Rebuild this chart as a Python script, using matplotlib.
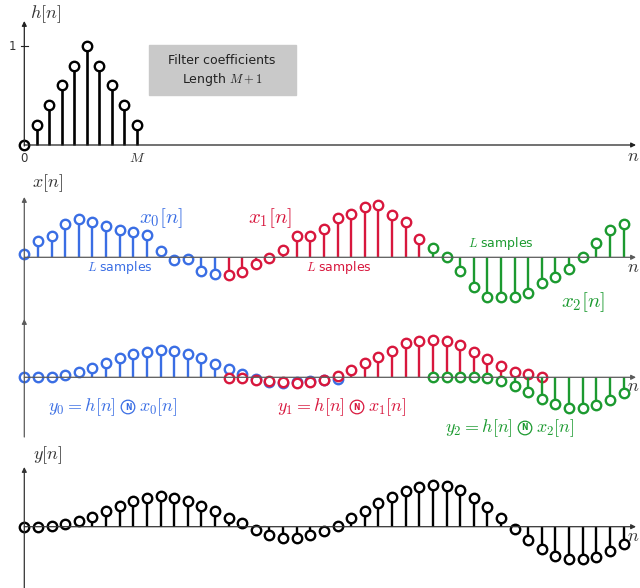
import matplotlib
matplotlib.use("Agg")
import matplotlib.pyplot as plt
from matplotlib.patches import Rectangle

plt.rcParams["mathtext.fontset"] = "cm"
plt.rcParams["font.family"] = ["DejaVu Sans"]

# ---------------- data ----------------
h_vals = [0.0, 0.2, 0.4, 0.6, 0.8, 1.0, 0.8, 0.6, 0.4, 0.2]
L = 15

x0_vals = [0.10, 0.50, 0.65, 0.99, 1.14, 1.07, 0.95, 0.82, 0.77, 0.67,
           0.19, -0.08, -0.06, -0.40, -0.50]
x1_vals = [-0.53, -0.43, -0.20, -0.03, 0.22, 0.65, 0.65, 0.84, 1.19, 1.29,
           1.50, 1.57, 1.27, 1.05, 0.54]
x2_vals = [0.27, 0.00, -0.40, -0.88, -1.18, -1.20, -1.18, -1.06, -0.78, -0.58,
           -0.36, 0.00, 0.42, 0.82, 0.99]

y0_vals = [0.00, 0.00, 0.00, 0.07, 0.15, 0.27, 0.42, 0.57, 0.70, 0.77,
           0.82, 0.79, 0.70, 0.57, 0.40, 0.24, 0.10, -0.05, -0.13, -0.16,
           -0.15, -0.12, -0.08, -0.04]
y1_vals = [-0.01, -0.03, -0.08, -0.11, -0.15, -0.18, -0.15, -0.08, 0.04, 0.22,
           0.44, 0.62, 0.80, 1.02, 1.08, 1.12, 1.09, 0.97, 0.77, 0.55,
           0.35, 0.17, 0.09, 0.00]
y2_vals = [0.00, 0.00, 0.00, 0.00, -0.03, -0.11, -0.25, -0.43, -0.65, -0.81,
           -0.91, -0.91, -0.83, -0.68, -0.46]

y_vals = [0.00, 0.00, 0.02, 0.07, 0.17, 0.30, 0.47, 0.63, 0.78, 0.87,
          0.92, 0.87, 0.78, 0.63, 0.47, 0.25, 0.10, -0.10, -0.25, -0.35,
          -0.33, -0.25, -0.13, 0.03, 0.25, 0.48, 0.70, 0.88, 1.07, 1.18,
          1.25, 1.22, 1.10, 0.87, 0.58, 0.25, -0.08, -0.40, -0.67, -0.87,
          -0.97, -0.98, -0.90, -0.73, -0.52]

BLUE = "#3a6ee4"
RED = "#d8173d"
GREEN = "#1c9a30"
AXIS = "#5a5a5a"

W, H = 640, 588
X0 = 24.3  # pixel column of n = 0

fig = plt.figure(figsize=(W / 100, H / 100), dpi=100)


def fpos(x, y):
    """pixel position -> figure fraction"""
    return (x / W, 1 - y / H)


def panel(top, bottom, x_step, base, y_step):
    ax = fig.add_axes([0, 1 - bottom / H, 1, (bottom - top) / H])
    ax.set_xlim(-X0 / x_step, (W - X0) / x_step)
    ax.set_ylim((base - bottom) / y_step, (base - top) / y_step)
    ax.axis("off")
    return ax


def arrow(x1, y1, x2, y2, color=AXIS, lw=0.9):
    fig.add_artist(matplotlib.patches.FancyArrowPatch(
        fpos(x1, y1), fpos(x2, y2), transform=fig.transFigure,
        arrowstyle="-|>", mutation_scale=7, lw=lw, color=color,
        shrinkA=0, shrinkB=0, zorder=1))


def stems(ax, n, vals, color, lw=1.7):
    ml, sl, bl = ax.stem(n, vals, basefmt=" ")
    sl.set_color(color)
    sl.set_linewidth(lw)
    ml.set_color(color)
    ml.set_markerfacecolor("white")
    ml.set_markeredgecolor(color)
    ml.set_markersize(6.8)
    ml.set_markeredgewidth(1.7)
    ml.set_clip_on(False)
    bl.set_visible(False)


def label(x, y, s, color="#333333", size=12, **kw):
    fig.text(*fpos(x, y), s, color=color, fontsize=size,
             ha=kw.pop("ha", "center"), va=kw.pop("va", "center"), **kw)


# ---------------- h[n] ----------------
ax1 = panel(0, 170, 12.5, 145, 99.3)
arrow(24.3, 145, 636, 145, color="#222222")
arrow(24.3, 146, 24.3, 21, color="#222222")
fig.add_artist(plt.Line2D([21 / W, 27.5 / W], [1 - 45.7 / H] * 2,
                          transform=fig.transFigure, color="#222222", lw=0.8))
stems(ax1, list(range(len(h_vals))), h_vals, "black", lw=1.9)
label(46, 14, r"$h[n]$", size=13)
label(12, 46, "1", size=8.5)
label(24.3, 158, "0", size=8.5)
label(136.8, 158, r"$M$", size=10)
label(633, 156, r"$n$", size=13)
fig.add_artist(Rectangle(fpos(149, 95), 147 / W, 50 / H,
                         transform=fig.transFigure, color="#c9c9c9", zorder=0))
label(222, 61, "Filter coefficients", color="#222222", size=9)
label(222, 79, r"Length $M+1$", color="#222222", size=9)

# ---------------- x[n] segments ----------------
ax2 = panel(170, 320, 13.62, 257.3, 33.3)
arrow(24.3, 257.3, 636, 257.3)
arrow(24.3, 320, 24.3, 197)
stems(ax2, list(range(0, L)), x0_vals, BLUE)
stems(ax2, list(range(L, 2 * L)), x1_vals, RED)
stems(ax2, list(range(2 * L, 3 * L)), x2_vals, GREEN)
label(48, 183, r"$x[n]$", size=13)
label(161, 218, r"$x_0[n]$", color=BLUE, size=15)
label(270, 218, r"$x_1[n]$", color=RED, size=15)
label(583, 302, r"$x_2[n]$", color=GREEN, size=15)
label(120, 267, r"$L$ samples", color=BLUE, size=9)
label(339, 267, r"$L$ samples", color=RED, size=9)
label(501, 244, r"$L$ samples", color=GREEN, size=9)
label(633, 267, r"$n$", size=13)

# ---------------- filtered segments ----------------
ax3 = panel(320, 440, 13.62, 377.3, 33.3)
arrow(24.3, 377.3, 636, 377.3)
arrow(24.3, 437, 24.3, 319)
stems(ax3, list(range(0, len(y0_vals))), y0_vals, BLUE)
stems(ax3, list(range(L, L + len(y1_vals))), y1_vals, RED)
stems(ax3, list(range(2 * L, 2 * L + len(y2_vals))), y2_vals, GREEN)
label(633, 386, r"$n$", size=13)


def conv_label(cx, cy, k, color):
    label(cx - 12, cy, r"$y_%d = h[n]$" % k, color=color, size=13, ha="right")
    fig.text(*fpos(cx, cy), "N", color=color, fontsize=5.5, ha="center",
             va="center", fontweight="bold",
             bbox=dict(boxstyle="circle,pad=0.3", fc="none", ec=color, lw=0.9))
    label(cx + 11, cy, r"$x_%d[n]$" % k, color=color, size=13, ha="left")


conv_label(128, 407, 0, BLUE)
conv_label(357, 407, 1, RED)
conv_label(525, 428, 2, GREEN)

# ---------------- y[n] ----------------
ax4 = panel(440, 588, 13.62, 526.7, 33.3)
arrow(24.3, 526.7, 636, 526.7, color="#333333")
arrow(24.3, 590, 24.3, 467, color="#333333")
stems(ax4, list(range(len(y_vals))), y_vals, "black")
label(48, 455, r"$y[n]$", size=13)
label(633, 536, r"$n$", size=13)

fig.savefig("out.png", dpi=100)
